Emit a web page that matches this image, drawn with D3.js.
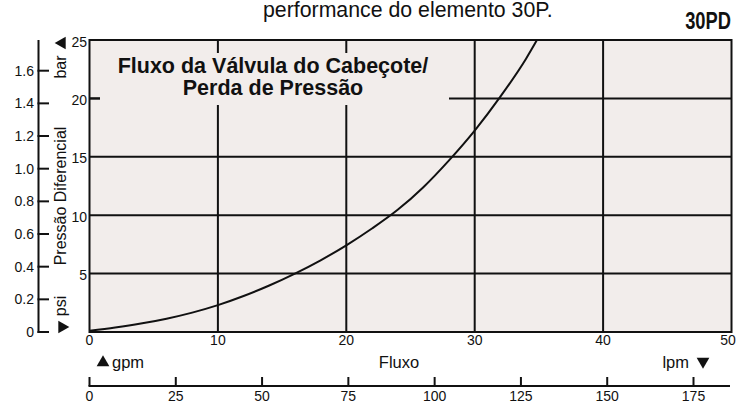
<!DOCTYPE html>
<html>
<head>
<meta charset="utf-8">
<script src="https://cdn.jsdelivr.net/npm/d3@7/dist/d3.min.js"></script>
<style>
  html, body { margin: 0; padding: 0; background: #ffffff; }
  svg { display: block; font-family: "Liberation Sans", Arial, Helvetica, sans-serif; }
</style>
</head>
<body>
<svg id="chart" width="737" height="403"></svg>
<script>
// Head valve flow vs. pressure drop curve (gpm vs psi)
const flowGpm     = [0, 2, 4, 6, 8, 10, 12, 14, 16, 18, 20, 22, 24, 26, 28, 30, 32, 34, 34.85];
const pressurePsi = [0.1, 0.38, 0.72, 1.14, 1.66, 2.3, 3.08, 3.98, 5.0, 6.14, 7.42, 8.86, 10.46, 12.4, 14.7, 17.25, 20.15, 23.4, 25.0];

const gpmTicks = [0, 10, 20, 30, 40, 50];
const psiTicks = [0, 5, 10, 15, 20, 25];
const barTicks = [0, 0.2, 0.4, 0.6, 0.8, 1.0, 1.2, 1.4, 1.6];
const lpmTicks = [0, 25, 50, 75, 100, 125, 150, 175];

const headerText = "performance do elemento 30P.";
const modelText = "30PD";
const titleLines = ["Fluxo da Válvula do Cabeçote/", "Perda de Pressão"];

const svg = d3.select("#chart");
const plot = { left: 89.5, right: 731.5, top: 40, bottom: 332 };
const bg = "#f2edeb";

const x = d3.scaleLinear().domain([0, 50]).range([plot.left, plot.right]);
const y = d3.scaleLinear().domain([0, 25]).range([plot.bottom, plot.top]);
const yBar = d3.scaleLinear().domain([0, 1.6]).range([plot.bottom, 70.7]);
const xLpm = d3.scaleLinear().domain([0, 175]).range([plot.left, 693.5]);

// header texts
svg.append("text").attr("x", 263).attr("y", 17)
  .attr("font-size", 21.3).attr("fill", "#111").text(headerText);
svg.append("text").attr("transform", "translate(731,28.5) scale(0.78,1)")
  .attr("text-anchor", "end")
  .attr("font-size", 23.5).attr("font-weight", "bold")
  .attr("fill", "#111").text(modelText);

// plot background
svg.append("rect")
  .attr("x", plot.left).attr("y", plot.top)
  .attr("width", plot.right - plot.left).attr("height", plot.bottom - plot.top)
  .attr("fill", bg);

// grid lines
const grid = svg.append("g").attr("stroke", "#111").attr("stroke-width", 2);
grid.selectAll("line.v").data(gpmTicks.filter(d => d > 0 && d < 50)).join("line")
  .attr("x1", d => x(d)).attr("x2", d => x(d))
  .attr("y1", plot.top).attr("y2", plot.bottom);
grid.selectAll("line.h").data(psiTicks.filter(d => d > 0 && d < 25)).join("line")
  .attr("x1", plot.left).attr("x2", plot.right)
  .attr("y1", d => y(d)).attr("y2", d => y(d));

// title panel clears the grid behind the text
svg.append("rect").attr("x", 100).attr("y", 53).attr("width", 349).attr("height", 52)
  .attr("fill", bg);
svg.append("g").selectAll("text").data(titleLines).join("text")
  .attr("x", 273).attr("y", (d, i) => 72.5 + i * 22)
  .attr("text-anchor", "middle").attr("font-size", 21.5).attr("font-weight", "bold")
  .attr("fill", "#111").text(d => d);

// curve
const line = d3.line().x((d, i) => x(flowGpm[i])).y(d => y(d)).curve(d3.curveMonotoneX);
svg.append("path").datum(pressurePsi)
  .attr("d", line).attr("fill", "none").attr("stroke", "#111").attr("stroke-width", 2);

// frame
svg.append("rect")
  .attr("x", plot.left).attr("y", plot.top)
  .attr("width", plot.right - plot.left).attr("height", plot.bottom - plot.top)
  .attr("fill", "none").attr("stroke", "#111").attr("stroke-width", 2);

const labelSize = 14;

// gpm labels under the frame (last one kept inside the page)
svg.append("g").selectAll("text").data(gpmTicks).join("text")
  .attr("x", d => Math.min(x(d), 728)).attr("y", 345).attr("text-anchor", "middle")
  .attr("font-size", labelSize).attr("fill", "#111").text(d => d);

// psi labels + inner tick
svg.append("g").selectAll("text").data(psiTicks).join("text")
  .attr("x", 87).attr("y", d => y(d) + 6.5).attr("text-anchor", "end")
  .attr("font-size", labelSize).attr("fill", "#111").text(d => d === 0 ? "" : d);
svg.append("line").attr("x1", plot.left).attr("x2", 100)
  .attr("y1", y(20)).attr("y2", y(20)).attr("stroke", "#111").attr("stroke-width", 2);

// bar axis on the far left
const barAxisX = 38.5;
svg.append("line").attr("x1", barAxisX).attr("x2", barAxisX)
  .attr("y1", plot.top).attr("y2", yBar(0) + 1)
  .attr("stroke", "#111").attr("stroke-width", 2);
svg.append("g").selectAll("line").data(barTicks).join("line")
  .attr("x1", barAxisX - 1).attr("x2", 49)
  .attr("y1", d => yBar(d)).attr("y2", d => yBar(d))
  .attr("stroke", "#111").attr("stroke-width", 2);
svg.append("g").selectAll("text").data(barTicks).join("text")
  .attr("x", 34).attr("y", d => yBar(d) + 5).attr("text-anchor", "end")
  .attr("font-size", labelSize).attr("fill", "#111")
  .text(d => d === 0 ? "0" : d3.format(".1f")(d));

// rotated axis titles
const rotLabel = (txt, cy) => svg.append("text")
  .attr("transform", `translate(66,${cy}) rotate(-90)`)
  .attr("text-anchor", "middle").attr("font-size", 16).attr("fill", "#111").text(txt);
rotLabel("bar", 67);
rotLabel("Pressão Diferencial", 196);
rotLabel("psi", 306);

// pointer triangles
const tri = d3.symbol().type(d3.symbolTriangle).size(70);
const pointer = (cx, cy, angle) => svg.append("path").attr("d", tri())
  .attr("transform", `translate(${cx},${cy}) rotate(${angle})`).attr("fill", "#111");
pointer(62, 43, -90);
pointer(62, 327, 90);
pointer(103, 362.5, 0);
pointer(703, 361.5, 180);

// flow axis titles
svg.append("text").attr("x", 112).attr("y", 368).attr("font-size", 16.5).attr("fill", "#111").text("gpm");
svg.append("text").attr("x", 399).attr("y", 368).attr("text-anchor", "middle")
  .attr("font-size", 16.5).attr("fill", "#111").text("Fluxo");
svg.append("text").attr("x", 689).attr("y", 368).attr("text-anchor", "end")
  .attr("font-size", 16.5).attr("fill", "#111").text("lpm");

// lpm axis
const lpmY = 386;
svg.append("line").attr("x1", plot.left - 1).attr("x2", 730)
  .attr("y1", lpmY).attr("y2", lpmY).attr("stroke", "#111").attr("stroke-width", 2);
svg.append("g").selectAll("line").data(lpmTicks).join("line")
  .attr("x1", d => xLpm(d)).attr("x2", d => xLpm(d))
  .attr("y1", 377).attr("y2", lpmY)
  .attr("stroke", "#111").attr("stroke-width", 2);
svg.append("g").selectAll("text").data(lpmTicks).join("text")
  .attr("x", d => xLpm(d)).attr("y", 401).attr("text-anchor", "middle")
  .attr("font-size", labelSize).attr("fill", "#111").text(d => d);
</script>
</body>
</html>
